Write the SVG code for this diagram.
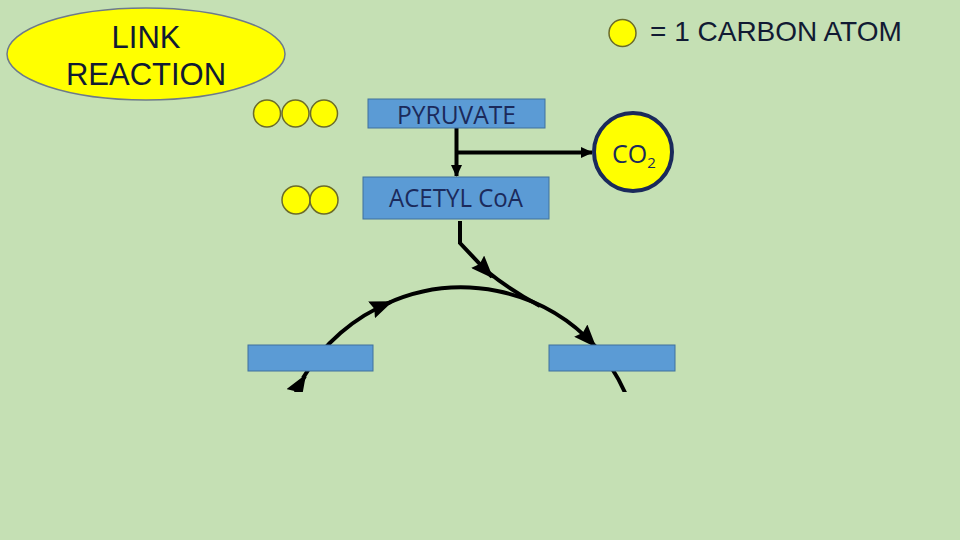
<svg xmlns="http://www.w3.org/2000/svg" width="960" height="540" viewBox="0 0 960 540">
<style>
.bg{fill:#c5e0b4}
.atom{fill:#ffff00;stroke:#6b6b2a;stroke-width:1.5}
.box{fill:#5b9bd5;stroke:#41719c;stroke-width:1}
.lbl{font-family:"Open Sans","Liberation Sans",sans-serif;font-size:25px;fill:#1b2a5b}
.mid{text-anchor:middle}
.title{font-family:"Liberation Sans",Arial,sans-serif;fill:#111a33}
.conn{fill:none;stroke:#000;stroke-width:4}
</style>
<defs>
<marker id="arS" viewBox="0 0 12 11" refX="11" refY="5.5" markerWidth="12" markerHeight="11" markerUnits="userSpaceOnUse" orient="auto">
<path d="M0,0 L12,5.5 L0,11 z" fill="#000"/>
</marker>
<marker id="arL" viewBox="0 0 23 18" refX="21" refY="9" markerWidth="23" markerHeight="18" markerUnits="userSpaceOnUse" orient="auto">
<path d="M0,0 L23,9 L0,18 L3,9 z" fill="#000"/>
</marker>
<clipPath id="cut"><rect x="0" y="0" width="960" height="392"/></clipPath>
</defs>
<rect class="bg" x="0" y="0" width="960" height="540"/>

<g id="link-reaction">
<ellipse cx="146" cy="54" rx="139" ry="46" fill="#ffff00" stroke="#6d7a8a" stroke-width="1.5"/>
<text class="title" x="146" y="48" font-size="31" text-anchor="middle">LINK</text>
<text class="title" x="146" y="85" font-size="31" text-anchor="middle">REACTION</text>
</g>

<g id="legend">
<circle class="atom" cx="622.5" cy="33" r="13.5"/>
<text class="title" x="650" y="41" font-size="28">= 1 CARBON ATOM</text>
</g>

<g id="connectors">
<path class="conn" d="M456.5,128 V176" marker-end="url(#arS)"/>
<path class="conn" d="M456.5,152.5 H592" marker-end="url(#arS)"/>
<path class="conn" d="M460,221 V243 L492,277" marker-end="url(#arL)"/>
<path class="conn" d="M488,272 Q510,290 540,306"/>
<g clip-path="url(#cut)">
<path class="conn" d="M285.4,420 A181.3 181.3 0 0 1 305,376" marker-end="url(#arL)"/>
<path class="conn" d="M303,378 A181.3 181.3 0 0 1 391,302" marker-end="url(#arL)"/>
<path class="conn" d="M386,304 A181.3 181.3 0 0 1 595,346" marker-end="url(#arL)"/>
<path class="conn" d="M594,345 A181.3 181.3 0 0 1 634.6,420"/>
</g>
</g>

<g id="pyruvate-atoms">
<circle class="atom" cx="267" cy="113.5" r="13.5"/>
<circle class="atom" cx="295.5" cy="113.5" r="13.5"/>
<circle class="atom" cx="324" cy="113.5" r="13.5"/>
</g>

<g id="pyruvate">
<rect class="box" x="368" y="99" width="177" height="29"/>
<text class="lbl mid" x="456.5" y="124" textLength="119" lengthAdjust="spacingAndGlyphs">PYRUVATE</text>
</g>

<g id="co2">
<circle cx="633" cy="152" r="39" fill="#ffff00" stroke="#1b2a5b" stroke-width="4"/>
<text class="lbl" x="612" y="163" font-size="22">CO<tspan font-size="15" dy="5">2</tspan></text>
</g>

<g id="acetyl-atoms">
<circle class="atom" cx="296" cy="200" r="14"/>
<circle class="atom" cx="324" cy="200" r="14"/>
</g>

<g id="acetyl-coa">
<rect class="box" x="363" y="177" width="186" height="42"/>
<text class="lbl mid" x="456" y="207" textLength="134" lengthAdjust="spacingAndGlyphs">ACETYL CoA</text>
</g>

<g id="box-left">
<rect class="box" x="248" y="345" width="125" height="26"/>
</g>

<g id="box-right">
<rect class="box" x="549" y="345" width="126" height="26"/>
</g>
</svg>
